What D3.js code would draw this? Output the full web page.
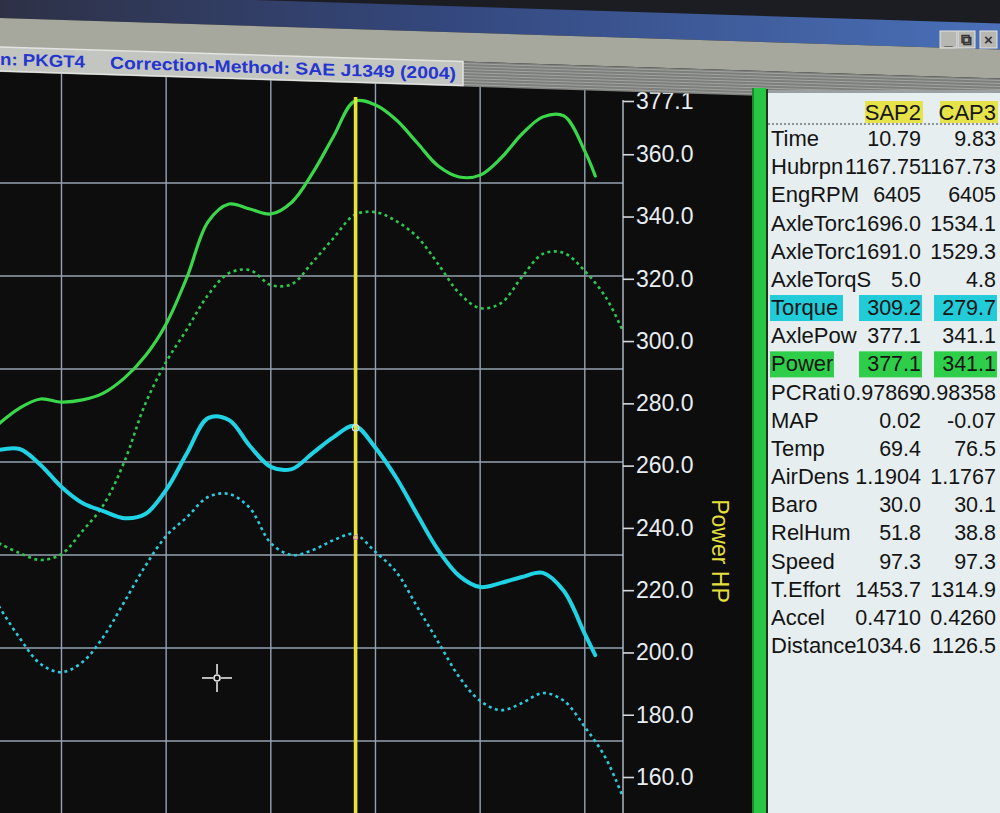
<!DOCTYPE html>
<html>
<head>
<meta charset="utf-8">
<script src="https://cdn.jsdelivr.net/npm/d3@7"></script>
<style>
	body { margin: 0; background: #0d0d0e; overflow: hidden; }
	svg { display: block; font-family: "Liberation Sans", Arial, sans-serif; }
</style>
</head>
<body>
<svg id="dyno" width="1000" height="813"></svg>
<script>
	/*** Data ***/
	// engine rpm sample points (x) for the two runs
	var rpmSap2 = [4700, 4800, 4900, 5000, 5100, 5200, 5300, 5400, 5500, 5600, 5700, 5800, 5900, 6000, 6100,
		6200, 6300, 6400, 6500, 6600, 6700, 6800, 6900, 7000, 7100, 7200, 7300, 7400, 7500, 7550];
	var rpmCap3 = [4700, 4800, 4900, 5000, 5100, 5200, 5300, 5400, 5500, 5600, 5700, 5800, 5900, 6000, 6100,
		6200, 6300, 6400, 6500, 6600, 6700, 6800, 6900, 7000, 7100, 7200, 7300, 7400, 7500, 7600, 7680];

	// power HP (right axis)
	var sap2Power = [273.4, 278.5, 281.4, 280.4, 281.1, 283.3, 288.1, 295.2, 305.5, 320.6, 338.3, 344.0, 342.4, 340.8, 344.6,
		354.0, 365.8, 377.0, 375.8, 371.0, 363.6, 356.2, 352.7, 353.3, 358.8, 366.5, 372.0, 372.3, 361.0, 353.0];
	var cap3Power = [235.1, 231.9, 229.7, 231.6, 239.0, 247.3, 261.2, 279.8, 293.3, 303.9, 314.8, 321.8, 322.8, 318.0, 318.3,
		325.4, 333.1, 340.5, 341.4, 338.5, 333.4, 324.7, 315.4, 310.6, 312.2, 320.6, 328.0, 328.3, 322.5, 314.1, 303.5];

	// torque lb-ft (left axis, off screen - drives the horizontal grid)
	var sap2Torque = [303.2, 303.5, 299.2, 293.3, 289.0, 286.8, 284.9, 286.0, 292.5, 302.4, 311.8, 311.3, 304.3, 298.7, 298.1,
		302.4, 306.7, 309.7, 303.8, 295.7, 285.8, 276.3, 269.4, 266.4, 267.5, 269.1, 270.2, 265.3, 253.8, 248.1];
	var cap3Torque = [261.3, 252.7, 245.7, 243.5, 246.2, 253.0, 262.4, 272.0, 280.1, 285.2, 290.6, 291.4, 287.6, 278.2, 275.0,
		276.3, 279.0, 280.6, 275.8, 270.4, 261.0, 251.6, 242.2, 235.8, 233.3, 235.2, 237.9, 235.8, 228.8, 220.4, 210.2];

	var powerTicks = [377.1, 360, 340, 320, 300, 280, 260, 240, 220, 200, 180, 160];
	var torqueGrid = [225, 250, 275, 300, 325, 350, 375];
	var rpmGrid = [5000, 5500, 6000, 6500, 7000, 7500];
	var cursorRpm = 6405;
	var pointer = { rpm: 5743, hp: 191.8 };

	// readout table
	var runNames = ["SAP2", "CAP3"];
	var rowLabels = ["Time", "Hubrpn", "EngRPM", "AxleTorc", "AxleTorc", "AxleTorqS", "Torque", "AxlePow", "Power",
		"PCRati", "MAP", "Temp", "AirDens", "Baro", "RelHum", "Speed", "T.Effort", "Accel", "Distance"];
	var sap2Values = ["10.79", "1167.75", "6405", "1696.0", "1691.0", "5.0", "309.2", "377.1", "377.1",
		"0.97869", "0.02", "69.4", "1.1904", "30.0", "51.8", "97.3", "1453.7", "0.4710", "1034.6"];
	var cap3Values = ["9.83", "1167.73", "6405", "1534.1", "1529.3", "4.8", "279.7", "341.1", "341.1",
		"0.98358", "-0.07", "76.5", "1.1767", "30.1", "38.8", "97.3", "1314.9", "0.4260", "1126.5"];
	var rowHighlight = { "Torque": "#22cbd8", "Power": "#2fce4a" };

	var titleRun = "n: PKGT4";
	var titleMethod = "Correction-Method: SAE J1349 (2004)";
	var axisTitle = "Power HP";

	/*** Scales ***/
	var svg = d3.select("#dyno");
	var x = d3.scaleLinear().domain([5000, 7500]).range([61.5, 584.8]);
	var yPow = d3.scaleLinear().domain([160, 377.1]).range([777, 101]);
	var yTrq = d3.scaleLinear().domain([225, 375]).range([741, 183]);
	var axisX = 623;

	// background of the chart window
	svg.append("rect").attr("x", 0).attr("y", 0).attr("width", 1000).attr("height", 813).attr("fill", "#0d0d0e");

	/*** Plot ***/
	var plot = svg.append("g");
	plot.append("clipPath").attr("id", "plotClip")
		.append("rect").attr("x", 0).attr("y", 60).attr("width", axisX).attr("height", 760);

	// grid
	plot.selectAll("line.vgrid").data(rpmGrid).enter().append("line")
		.attr("class", "vgrid")
		.attr("x1", function(d) { return x(d); }).attr("x2", function(d) { return x(d); })
		.attr("y1", 70).attr("y2", 813)
		.attr("stroke", "#95a2b1").attr("stroke-width", 1.4);
	plot.selectAll("line.hgrid").data(torqueGrid).enter().append("line")
		.attr("class", "hgrid")
		.attr("x1", 0).attr("x2", axisX)
		.attr("y1", function(d) { return yTrq(d); }).attr("y2", function(d) { return yTrq(d); })
		.attr("stroke", "#95a2b1").attr("stroke-width", 1.4);

	function series(rpms, vals) {
		return rpms.map(function(r, i) { return { rpm: r, v: vals[i] }; });
	}
	function lineFor(scale) {
		return d3.line()
			.x(function(d) { return x(d.rpm); })
			.y(function(d) { return scale(d.v); })
			.curve(d3.curveCatmullRom.alpha(0.5));
	}

	var curves = [
		{ data: series(rpmCap3, cap3Power), scale: yPow, color: "#2cc74e", width: 2.6, dash: "3 3.5" },
		{ data: series(rpmCap3, cap3Torque), scale: yTrq, color: "#2ccadc", width: 2.6, dash: "3 3.5" },
		{ data: series(rpmSap2, sap2Power), scale: yPow, color: "#3ad74a", width: 3.2, dash: null },
		{ data: series(rpmSap2, sap2Torque), scale: yTrq, color: "#20d3e4", width: 4, dash: null }
	];
	var curveLayer = plot.append("g").attr("clip-path", "url(#plotClip)");
	curves.forEach(function(c) {
		curveLayer.append("path")
			.attr("d", lineFor(c.scale)(c.data))
			.attr("fill", "none")
			.attr("stroke", c.color)
			.attr("stroke-width", c.width)
			.attr("stroke-dasharray", c.dash)
			.attr("stroke-linecap", c.dash ? "butt" : "round");
	});

	// yellow cursor line
	plot.append("line")
		.attr("x1", x(cursorRpm)).attr("x2", x(cursorRpm))
		.attr("y1", 97).attr("y2", 813)
		.attr("stroke", "#e8e23c").attr("stroke-width", 3.6);

	// cursor markers
	plot.append("circle")
		.attr("cx", x(cursorRpm)).attr("cy", yTrq(309.2)).attr("r", 3.2)
		.attr("fill", "none").attr("stroke", "#d8e0e4").attr("stroke-width", 1.3);
	plot.append("circle")
		.attr("cx", x(cursorRpm)).attr("cy", yTrq(279.7)).attr("r", 2)
		.attr("fill", "none").attr("stroke", "#d88aa8").attr("stroke-width", 1.2);

	// mouse crosshair
	var px = x(pointer.rpm), py = yPow(pointer.hp);
	var cross = plot.append("g").attr("stroke", "#e6e6e6").attr("stroke-width", 1.6);
	cross.append("line").attr("x1", px - 15).attr("x2", px - 4).attr("y1", py).attr("y2", py);
	cross.append("line").attr("x1", px + 4).attr("x2", px + 15).attr("y1", py).attr("y2", py);
	cross.append("line").attr("x1", px).attr("x2", px).attr("y1", py - 14).attr("y2", py - 4);
	cross.append("line").attr("x1", px).attr("x2", px).attr("y1", py + 4).attr("y2", py + 14);
	cross.append("circle").attr("cx", px).attr("cy", py).attr("r", 3).attr("fill", "none");

	/*** Power axis ***/
	svg.append("line")
		.attr("x1", axisX).attr("x2", axisX).attr("y1", 100).attr("y2", 813)
		.attr("stroke", "#b9c3cc").attr("stroke-width", 1.4);
	var axisG = svg.append("g")
		.attr("transform", "translate(" + axisX + ",0)")
		.call(d3.axisRight(yPow).tickValues(powerTicks).tickFormat(d3.format(".1f")).tickSize(11).tickPadding(2));
	axisG.select(".domain").remove();
	axisG.selectAll(".tick line").attr("stroke", "#d4dadf").attr("stroke-width", 1.6);
	axisG.selectAll(".tick text")
		.attr("fill", "#e8eef1")
		.style("font-size", "23px")
		.style("font-family", "'Liberation Sans', Arial, sans-serif");

	svg.append("text")
		.attr("transform", "translate(712,551) rotate(90)")
		.attr("text-anchor", "middle")
		.attr("fill", "#e4df3e")
		.style("font-size", "23px")
		.text(axisTitle);

	/*** Window header (photo is slightly tilted) ***/
	var defs = svg.append("defs");
	var grad = defs.append("linearGradient").attr("id", "titleBlue").attr("x1", "0").attr("x2", "1");
	grad.append("stop").attr("offset", "0").attr("stop-color", "#2e3146");
	grad.append("stop").attr("offset", "0.45").attr("stop-color", "#34487e");
	grad.append("stop").attr("offset", "1").attr("stop-color", "#4a70b8");

	var head = svg.append("g").attr("transform", "skewY(1.8)");
	head.append("rect").attr("x", 0).attr("y", -60).attr("width", 1000).attr("height", 54).attr("fill", "#1c1d22");
	head.append("rect").attr("x", 0).attr("y", -8).attr("width", 1000).attr("height", 26).attr("fill", "url(#titleBlue)");
	head.append("rect").attr("x", 0).attr("y", 18).attr("width", 1000).attr("height", 29).attr("fill", "#a6a89e");
	head.append("rect").attr("x", 0).attr("y", 47).attr("width", 1000).attr("height", 25).attr("fill", "#7d7f7c");
	for (var s = 49; s < 71; s += 3) {
		head.append("line").attr("x1", 463).attr("x2", 1000).attr("y1", s).attr("y2", s)
			.attr("stroke", "#a2a4a0").attr("stroke-width", 1);
	}
	head.append("rect").attr("x", -2).attr("y", 47).attr("width", 465).attr("height", 24)
		.attr("fill", "#c3c5c1").attr("stroke", "#e2e4e0").attr("stroke-width", 1.5);
	head.append("text").attr("x", 0).attr("y", 65)
		.attr("fill", "#2535cf").style("font-size", "17px").style("font-weight", "bold")
		.attr("textLength", 85).attr("lengthAdjust", "spacingAndGlyphs")
		.text(titleRun);
	head.append("text").attr("x", 110).attr("y", 65)
		.attr("fill", "#2535cf").style("font-size", "17px").style("font-weight", "bold")
		.attr("textLength", 346).attr("lengthAdjust", "spacingAndGlyphs")
		.text(titleMethod);

	// window buttons
	var btns = [{ x: 940, g: "_" }, { x: 958, g: "\u29C9" }, { x: 980, g: "\u00D7" }];
	btns.forEach(function(b) {
		svg.append("rect").attr("x", b.x).attr("y", 31).attr("width", 17).attr("height", 17)
			.attr("fill", "#b7b8b2").attr("stroke", "#e6e6e2").attr("stroke-width", 1);
		svg.append("text").attr("x", b.x + 8.5).attr("y", 45).attr("text-anchor", "middle")
			.attr("fill", "#333").style("font-size", "15px").style("font-weight", "bold").text(b.g);
	});

	/*** Readout table ***/
	svg.append("rect").attr("x", 752).attr("y", 88).attr("width", 14).attr("height", 725).attr("fill", "#27c644");
	svg.append("rect").attr("x", 752).attr("y", 88).attr("width", 2).attr("height", 725).attr("fill", "#1a8a30");
	svg.append("rect").attr("x", 766).attr("y", 89).attr("width", 2).attr("height", 724).attr("fill", "#203020");
	svg.append("rect").attr("x", 768).attr("y", 90).attr("width", 232).attr("height", 723).attr("fill", "#e6eeef");
	svg.append("rect").attr("x", 768).attr("y", 90).attr("width", 232).attr("height", 3).attr("fill", "#9aa0a2");

	var colRight = [921, 996];
	runNames.forEach(function(name, i) {
		svg.append("rect").attr("x", colRight[i] - 56).attr("y", 101).attr("width", 58).attr("height", 22)
			.attr("fill", "#e6e24a");
		svg.append("text").attr("x", colRight[i]).attr("y", 120).attr("text-anchor", "end")
			.attr("fill", "#151515").style("font-size", "22px").text(name);
	});
	svg.append("line").attr("x1", 768).attr("x2", 1000).attr("y1", 124).attr("y2", 124)
		.attr("stroke", "#707678").attr("stroke-width", 1.5).attr("stroke-dasharray", "2 2");

	var rowStep = 28.17;
	rowLabels.forEach(function(label, i) {
		var yc = 138 + i * rowStep;
		var hl = rowHighlight[label];
		if (hl) {
			var lw = label == "Torque" ? 73 : 64;
			svg.append("rect").attr("x", 770).attr("y", yc - 12).attr("width", lw).attr("height", 26).attr("fill", hl);
			colRight.forEach(function(cx) {
				svg.append("rect").attr("x", cx - 62).attr("y", yc - 12).attr("width", 63).attr("height", 26).attr("fill", hl);
			});
		}
		svg.append("text").attr("x", 771).attr("y", yc + 8)
			.attr("fill", "#141414").style("font-size", "22px").text(label);
		svg.append("text").attr("x", colRight[0]).attr("y", yc + 8).attr("text-anchor", "end")
			.attr("fill", "#141414").style("font-size", "21.5px").text(sap2Values[i]);
		svg.append("text").attr("x", colRight[1]).attr("y", yc + 8).attr("text-anchor", "end")
			.attr("fill", "#141414").style("font-size", "21.5px").text(cap3Values[i]);
	});
</script>
</body>
</html>
